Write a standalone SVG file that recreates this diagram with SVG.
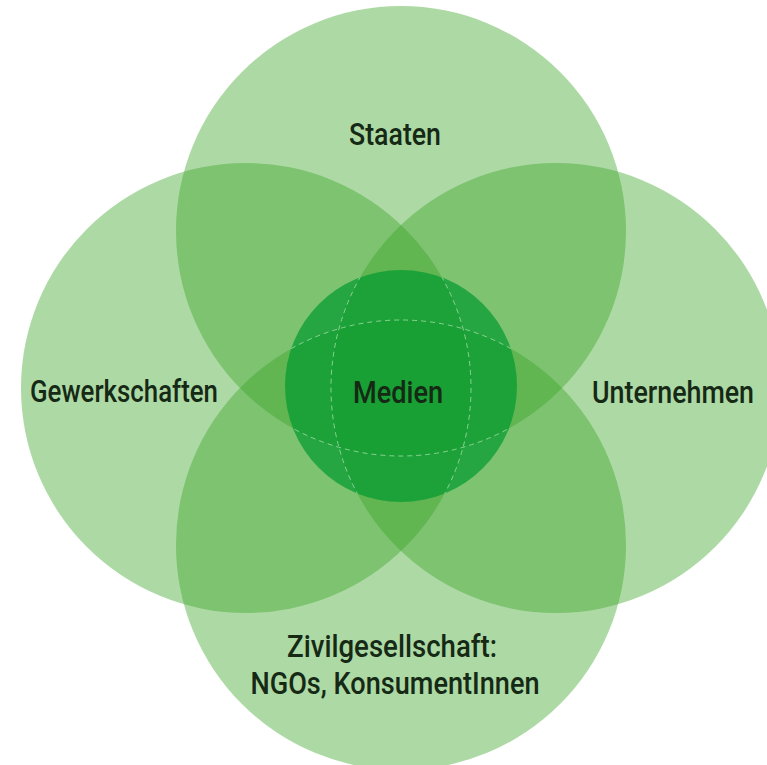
<svg xmlns="http://www.w3.org/2000/svg" width="767" height="765" viewBox="0 0 767 765">
  <style>
    .big { fill: #39a326; fill-opacity: 0.415; }
    .core { fill: #009a30; fill-opacity: 0.7; }
    .dash { fill: none; stroke: #b8e6b4; stroke-opacity: 0.7; stroke-width: 1; stroke-dasharray: 5 4; }
    .lbl { font-family: Roboto, "Liberation Sans", sans-serif; font-size: 32px; font-weight: 500; fill: #152915; text-anchor: middle; }
  </style>
  <defs>
    <clipPath id="coreClip"><circle cx="401" cy="386" r="116"/></clipPath>
  </defs>
  <rect width="767" height="765" fill="#ffffff"/>
  <g id="staaten"><circle class="big" cx="401" cy="231" r="225"/></g>
  <g id="gewerkschaften"><circle class="big" cx="246" cy="388" r="225"/></g>
  <g id="unternehmen"><circle class="big" cx="556" cy="388" r="225"/></g>
  <g id="zivilgesellschaft"><circle class="big" cx="401" cy="545" r="225"/></g>
  <g id="medien"><circle class="core" cx="401" cy="386" r="116"/></g>
  <g id="connectors" clip-path="url(#coreClip)">
    <circle class="dash" cx="401" cy="231" r="225"/>
    <circle class="dash" cx="246" cy="388" r="225"/>
    <circle class="dash" cx="556" cy="388" r="225"/>
    <circle class="dash" cx="401" cy="545" r="225"/>
  </g>
  <g id="labels">
    <text class="lbl" x="395" y="145" textLength="92" lengthAdjust="spacingAndGlyphs">Staaten</text>
    <text class="lbl" x="124" y="402" textLength="188" lengthAdjust="spacingAndGlyphs">Gewerkschaften</text>
    <text class="lbl" x="398" y="403" textLength="90" lengthAdjust="spacingAndGlyphs">Medien</text>
    <text class="lbl" x="673" y="403" textLength="162" lengthAdjust="spacingAndGlyphs">Unternehmen</text>
    <text class="lbl" x="392" y="657" textLength="210" lengthAdjust="spacingAndGlyphs">Zivilgesellschaft:</text>
    <text class="lbl" x="395" y="694" textLength="289" lengthAdjust="spacingAndGlyphs">NGOs, KonsumentInnen</text>
  </g>
</svg>
